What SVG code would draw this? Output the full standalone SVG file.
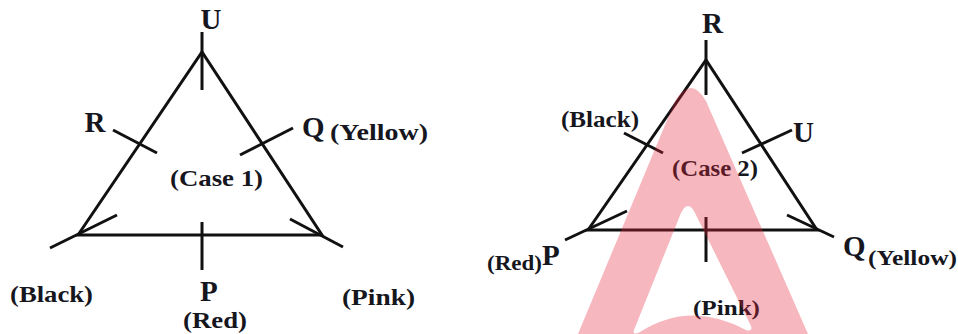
<svg xmlns="http://www.w3.org/2000/svg" width="958" height="334" viewBox="0 0 958 334">
<style>
.ln{stroke:#111;stroke-width:3;fill:none;stroke-linecap:butt;stroke-linejoin:miter}
.big{font-family:"Liberation Serif",serif;font-weight:bold;font-size:29px;fill:#16161e}
.sm{font-family:"Liberation Serif",serif;font-weight:bold;fill:#16161e}
.wm{fill:rgb(228,38,58);fill-opacity:0.33;fill-rule:evenodd}
</style>
<rect width="958" height="334" fill="#fff"/>
<g id="connectors">
  <g id="case1-lines">
    <path class="ln" d="M78,235 L202,52 L322,235 Z"/>
    <line class="ln" x1="202" y1="32" x2="202" y2="90"/>
    <line class="ln" x1="50" y1="248" x2="117" y2="215"/>
    <line class="ln" x1="290" y1="219" x2="343" y2="247"/>
    <line class="ln" x1="113" y1="130" x2="157" y2="153"/>
    <line class="ln" x1="240" y1="155" x2="293" y2="128"/>
    <line class="ln" x1="202" y1="222" x2="202" y2="270"/>
  </g>
  <g id="case2-lines">
    <path class="ln" d="M588,230 L706,60 L817,230 Z"/>
    <line class="ln" x1="706" y1="40" x2="706" y2="95"/>
    <line class="ln" x1="565" y1="240" x2="627" y2="211"/>
    <line class="ln" x1="787" y1="215" x2="834" y2="237"/>
    <line class="ln" x1="624" y1="133" x2="663" y2="153"/>
    <line class="ln" x1="742" y1="153" x2="792" y2="130"/>
    <line class="ln" x1="706" y1="217" x2="706" y2="262"/>
  </g>
</g>
<g id="case1-U"><text class="big" x="211" y="29" text-anchor="middle">U</text></g>
<g id="case1-R"><text class="big" x="95" y="132" text-anchor="middle">R</text></g>
<g id="case1-Q"><text class="big" x="302" y="137">Q</text><text class="sm" x="330" y="140" font-size="23" textLength="98" lengthAdjust="spacingAndGlyphs">(Yellow)</text></g>
<g id="case1-label"><text class="sm" x="170" y="186" font-size="24" textLength="93" lengthAdjust="spacingAndGlyphs">(Case 1)</text></g>
<g id="case1-black"><text class="sm" x="10" y="302" font-size="24" textLength="83" lengthAdjust="spacingAndGlyphs">(Black)</text></g>
<g id="case1-P"><text class="big" x="200" y="301">P</text><text class="sm" x="183" y="328" font-size="24" textLength="64" lengthAdjust="spacingAndGlyphs">(Red)</text></g>
<g id="case1-pink"><text class="sm" x="342" y="305" font-size="24" textLength="73" lengthAdjust="spacingAndGlyphs">(Pink)</text></g>

<g id="case2-R"><text class="big" x="702" y="33">R</text></g>
<g id="case2-black"><text class="sm" x="561" y="127" font-size="23" textLength="78" lengthAdjust="spacingAndGlyphs">(Black)</text></g>
<g id="case2-U"><text class="big" x="793" y="142">U</text></g>
<g id="case2-label"><text class="sm" x="672" y="176" font-size="23" textLength="86" lengthAdjust="spacingAndGlyphs">(Case 2)</text></g>
<g id="case2-P"><text class="sm" x="487" y="270" font-size="22" textLength="55" lengthAdjust="spacingAndGlyphs">(Red)</text><text class="big" x="542" y="265" font-size="28">P</text></g>
<g id="case2-Q"><text class="big" x="843" y="256" font-size="28">Q</text><text class="sm" x="868" y="265" font-size="20" textLength="89" lengthAdjust="spacingAndGlyphs">(Yellow)</text></g>
<g id="case2-pink"><text class="sm" x="693" y="315" font-size="22" textLength="67" lengthAdjust="spacingAndGlyphs">(Pink)</text></g>

<path class="wm" d="M578,334 L675,101 Q691,75 706,101 L808,334 Z M634,330 L681,213 Q688,199 695,213 L751,326 Q753,332 746,330 Q690,300 640,332 Q632,336 634,330 Z"/>
</svg>
